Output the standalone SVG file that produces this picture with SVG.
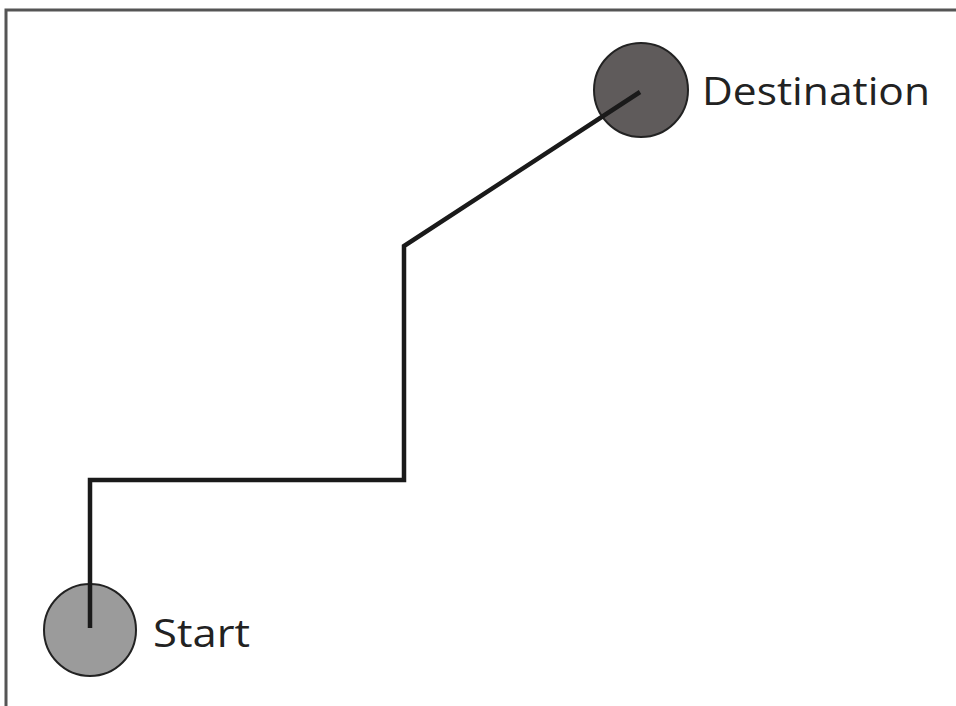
<svg xmlns="http://www.w3.org/2000/svg" width="956" height="706" viewBox="0 0 956 706">
<style>
.lbl{font-family:"Open Sans","Liberation Sans",Arial,sans-serif;font-size:38px;fill:#222;}
.path{fill:none;stroke:#1a1a1a;stroke-width:4.5;stroke-linejoin:miter;}
.node{stroke:#222;stroke-width:2;}
</style>
<rect width="956" height="706" fill="#ffffff"/>
<g id="frame"><path d="M6,706 V10 H956" fill="none" stroke="#555" stroke-width="3"/></g>
<g id="start"><circle class="node" cx="90" cy="630" r="46" fill="#9b9b9b"/><text class="lbl" x="153" y="647" textLength="97" lengthAdjust="spacingAndGlyphs">Start</text></g>
<g id="destination"><circle class="node" cx="641" cy="90" r="47" fill="#5f5b5b"/><text class="lbl" x="702" y="105" textLength="228" lengthAdjust="spacingAndGlyphs">Destination</text></g>
<g id="connectors"><polyline class="path" points="90,628 90,480 404,480 404,246 640,92"/></g>
</svg>
